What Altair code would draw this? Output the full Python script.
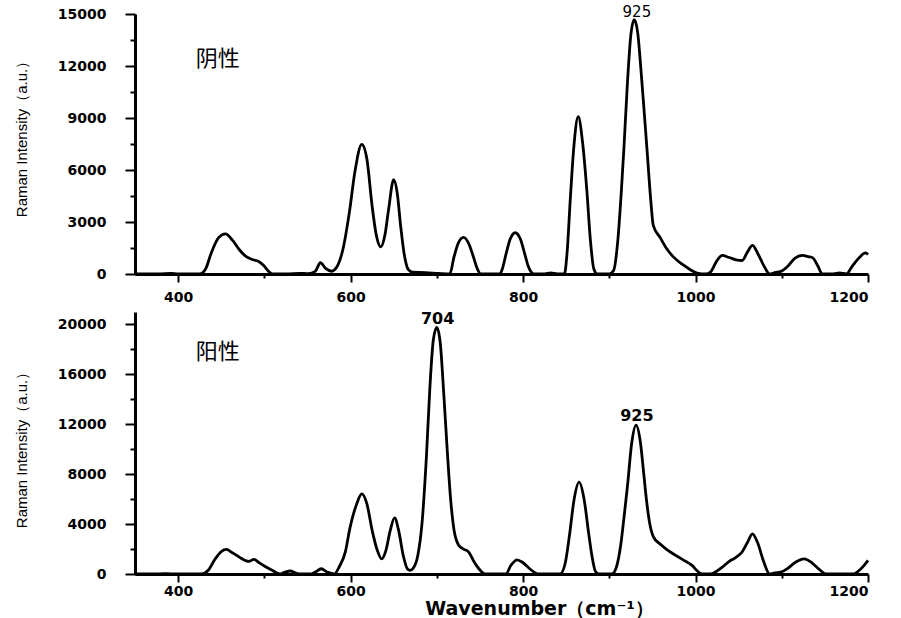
import altair as alt
import pandas as pd

# ---- data: 阴性 (negative) spectrum ----
neg_x = [350, 365, 380, 392, 400, 425, 432, 438, 447, 455, 463, 471, 479, 487, 493, 499, 505, 510,
         526, 541, 551, 559, 565, 571, 578, 584, 591, 599, 605, 613, 619, 625, 630, 635, 640, 644,
         650, 654, 658, 662, 667, 672, 687, 702, 715, 720, 725, 731, 737, 742, 747, 751, 773, 776,
         780, 785, 791, 797, 802, 806, 810, 813, 825, 832, 840, 848, 851, 855, 859, 864, 869, 874, 878, 882,
         886, 900, 905, 910, 914, 917, 921, 925, 929, 933, 937, 941, 944, 948, 951, 959, 966, 974,
         985, 994, 1003, 1012, 1018, 1024, 1031, 1039, 1047, 1054, 1060, 1066, 1072, 1079, 1086,
         1092, 1099, 1107, 1115, 1124, 1131, 1136, 1142, 1147, 1160, 1167, 1175, 1181, 1190, 1197, 1200]
neg_y = [0, 0, 10, 30, 0, 0, 300, 1160, 2100, 2320, 1950, 1400, 1000, 820, 740, 500, 150, 0,
         0, 40, 20, 150, 650, 320, 160, 400, 1400, 3700, 5900, 7480, 6600, 3900, 2200, 1570, 2300, 3700,
         5450, 4700, 2800, 1200, 250, 100, 80, 30, 0, 1000, 1800, 2110, 1750, 1050, 300, 0, 0, 300,
         1100, 2000, 2380, 2000, 1150, 450, 80, 0, 0, 60, 0, 0, 1200, 4500, 7400, 9080, 7600, 4800, 2000, 300,
         0, 0, 200, 2000, 4800, 7300, 11000, 13800, 14670, 13900, 11600, 9000, 7000, 4300, 2800, 2100, 1500, 1000,
         550, 250, 30, 0, 150, 700, 1070, 950, 820, 780, 1250, 1650, 1200, 500, 0,
         80, 150, 450, 900, 1070, 1000, 930, 450, 0, 0, 60, 0, 400, 950, 1220, 1130]

# ---- data: 阳性 (positive) spectrum ----
pos_x = [350, 370, 385, 400, 427, 435, 442, 450, 456, 463, 471, 479, 482, 488, 494, 501, 509, 518,
         524, 530, 536, 541, 553, 559, 566, 573, 581, 587, 594, 599, 607, 613, 619, 625, 631, 636,
         641, 646, 651, 656, 661, 666, 669, 673, 678, 683, 688, 692, 696, 700, 704, 708, 712, 716,
         720, 725, 731, 737, 743, 749, 756, 780, 786, 793, 800, 808, 818, 843, 849, 854, 859, 865,
         871, 876, 880, 884, 888, 903, 908, 913, 917, 921, 926, 931, 936, 940, 943, 947, 951, 959,
         966, 977, 989, 996, 1002, 1008, 1017, 1024, 1031, 1038, 1046, 1054, 1060, 1066, 1072, 1079,
         1086, 1092, 1099, 1107, 1115, 1126, 1135, 1143, 1151, 1183, 1190, 1195, 1200]
pos_y = [0, 0, 20, 0, 0, 300, 1100, 1800, 1968, 1700, 1350, 1050, 1010, 1170, 900, 600, 300, 0,
         150, 240, 100, 0, 0, 150, 420, 150, 0, 600, 1800, 3600, 5600, 6420, 5600, 3500, 1900, 1220,
         1900, 3500, 4500, 3400, 1500, 400, 290, 500, 1500, 4200, 9500, 15000, 18800, 19760, 18500, 14500, 10000, 6000,
         3500, 2350, 2000, 1760, 1000, 400, 0, 0, 700, 1140, 900, 400, 0, 0, 900, 3200, 5900, 7360,
         5900, 3300, 1400, 200, 0, 0, 500, 2200, 4500, 7000, 10500, 11940, 10600, 8000, 6000, 4000, 3000, 2400,
         2000, 1490, 1000, 690, 250, 0, 0, 200, 550, 960, 1300, 1760, 2500, 3220, 2500, 1000,
         0, 80, 150, 450, 900, 1220, 900, 400, 0, 0, 300, 650, 1090]

# ---- annotations ----
neg_peak_x = [932]
neg_peak_y = [15120]
neg_peak_text = ["925"]
pos_peak_x = [701, 932]
pos_peak_y = [20450, 12700]
pos_peak_text = ["704", "925"]
neg_label = "阴性"
pos_label = "阳性"
label_x = 446
neg_label_y = 12400
pos_label_y = 17800

x_major = [400, 600, 800, 1000, 1200]
x_minor = [500, 700, 900, 1100]
neg_major = [0, 3000, 6000, 9000, 12000, 15000]
neg_minor = [1500, 4500, 7500, 10500, 13500]
pos_major = [0, 4000, 8000, 12000, 16000, 20000]
pos_minor = [2000, 6000, 10000, 14000, 18000]

WIDTH = 733
Y_TITLE = "Raman Intensity（a.u.）"
X_TITLE = "Wavenumber（cm⁻¹）"


def panel(xs, ys, ymax, ymajor, yminor, height, title_y, with_xtitle, xlab_pad,
          px, py, ptext, bold_peaks, lab, lab_y):
    df = pd.DataFrame({"wavenumber": xs, "intensity": ys})
    xs_scale = alt.Scale(domain=[350, 1200], nice=False, zero=False)
    ys_scale = alt.Scale(domain=[0, ymax], nice=False)

    xkw = dict(values=x_major, format="d", tickSize=8, labelPadding=xlab_pad, orient="bottom")
    if with_xtitle:
        xkw.update(title=X_TITLE, titleFont="DejaVu Sans", titleFontWeight="bold",
                   titleFontSize=19, titleX=404, titleY=34, titleAlign="center",
                   titleBaseline="middle")
    else:
        xkw.update(title=None)
    yax = alt.Axis(values=ymajor, format="d", tickSize=10, labelPadding=19, orient="left",
                   title=Y_TITLE, titleFont="Liberation Sans", titleFontWeight="normal",
                   titleFontSize=15, titleAngle=270, titleX=-114, titleY=title_y,
                   titleAlign="center", titleBaseline="middle")

    line = alt.Chart(df).mark_line(
        color="black", strokeWidth=2.8, interpolate="monotone"
    ).encode(
        x=alt.X("wavenumber:Q", scale=xs_scale, axis=alt.Axis(**xkw)),
        y=alt.Y("intensity:Q", scale=ys_scale, axis=yax),
    )
    minor = alt.Chart(df).mark_point(opacity=0).encode(
        x=alt.X("wavenumber:Q", scale=xs_scale,
                axis=alt.Axis(values=x_minor, tickSize=4, labels=False, domain=False,
                              title=None, orient="bottom")),
        y=alt.Y("intensity:Q", scale=ys_scale,
                axis=alt.Axis(values=yminor, tickSize=5, labels=False, domain=False,
                              title=None, orient="left")),
    )
    peaks = alt.Chart(pd.DataFrame({"x": px, "y": py, "t": ptext})).mark_text(
        font="DejaVu Sans", fontSize=16 if bold_peaks else 15,
        fontWeight="bold" if bold_peaks else "normal",
        color="black", baseline="middle",
    ).encode(x=alt.X("x:Q", scale=xs_scale, axis=None),
             y=alt.Y("y:Q", scale=ys_scale, axis=None), text="t:N")
    name = alt.Chart(pd.DataFrame({"x": [label_x], "y": [lab_y], "t": [lab]})).mark_text(
        font="Noto Sans CJK SC", fontSize=22, color="black", baseline="middle",
    ).encode(x=alt.X("x:Q", scale=xs_scale, axis=None),
             y=alt.Y("y:Q", scale=ys_scale, axis=None), text="t:N")
    return alt.layer(line, minor, peaks, name).resolve_axis(
        x="independent", y="independent"
    ).properties(width=WIDTH, height=height)


top = panel(neg_x, neg_y, 15000, neg_major, neg_minor, 260, 121, False, 8,
            neg_peak_x, neg_peak_y, neg_peak_text, False, neg_label, neg_label_y)
bottom = panel(pos_x, pos_y, 21000, pos_major, pos_minor, 262, 134, True, 2,
               pos_peak_x, pos_peak_y, pos_peak_text, True, pos_label, pos_label_y)

chart = alt.vconcat(top, bottom, spacing=38, bounds="flush").properties(
    padding={"left": 14, "top": 4, "right": 5, "bottom": 2},
    background="white",
).configure_view(stroke=None).configure_axis(
    domainColor="black", domainWidth=3, tickColor="black", tickWidth=2,
    labelFont="DejaVu Sans", labelFontWeight="bold", labelFontSize=14, labelColor="black",
    titleColor="black", grid=False,
)

chart.save("out.html", embed_options={"renderer": "svg", "actions": False})
